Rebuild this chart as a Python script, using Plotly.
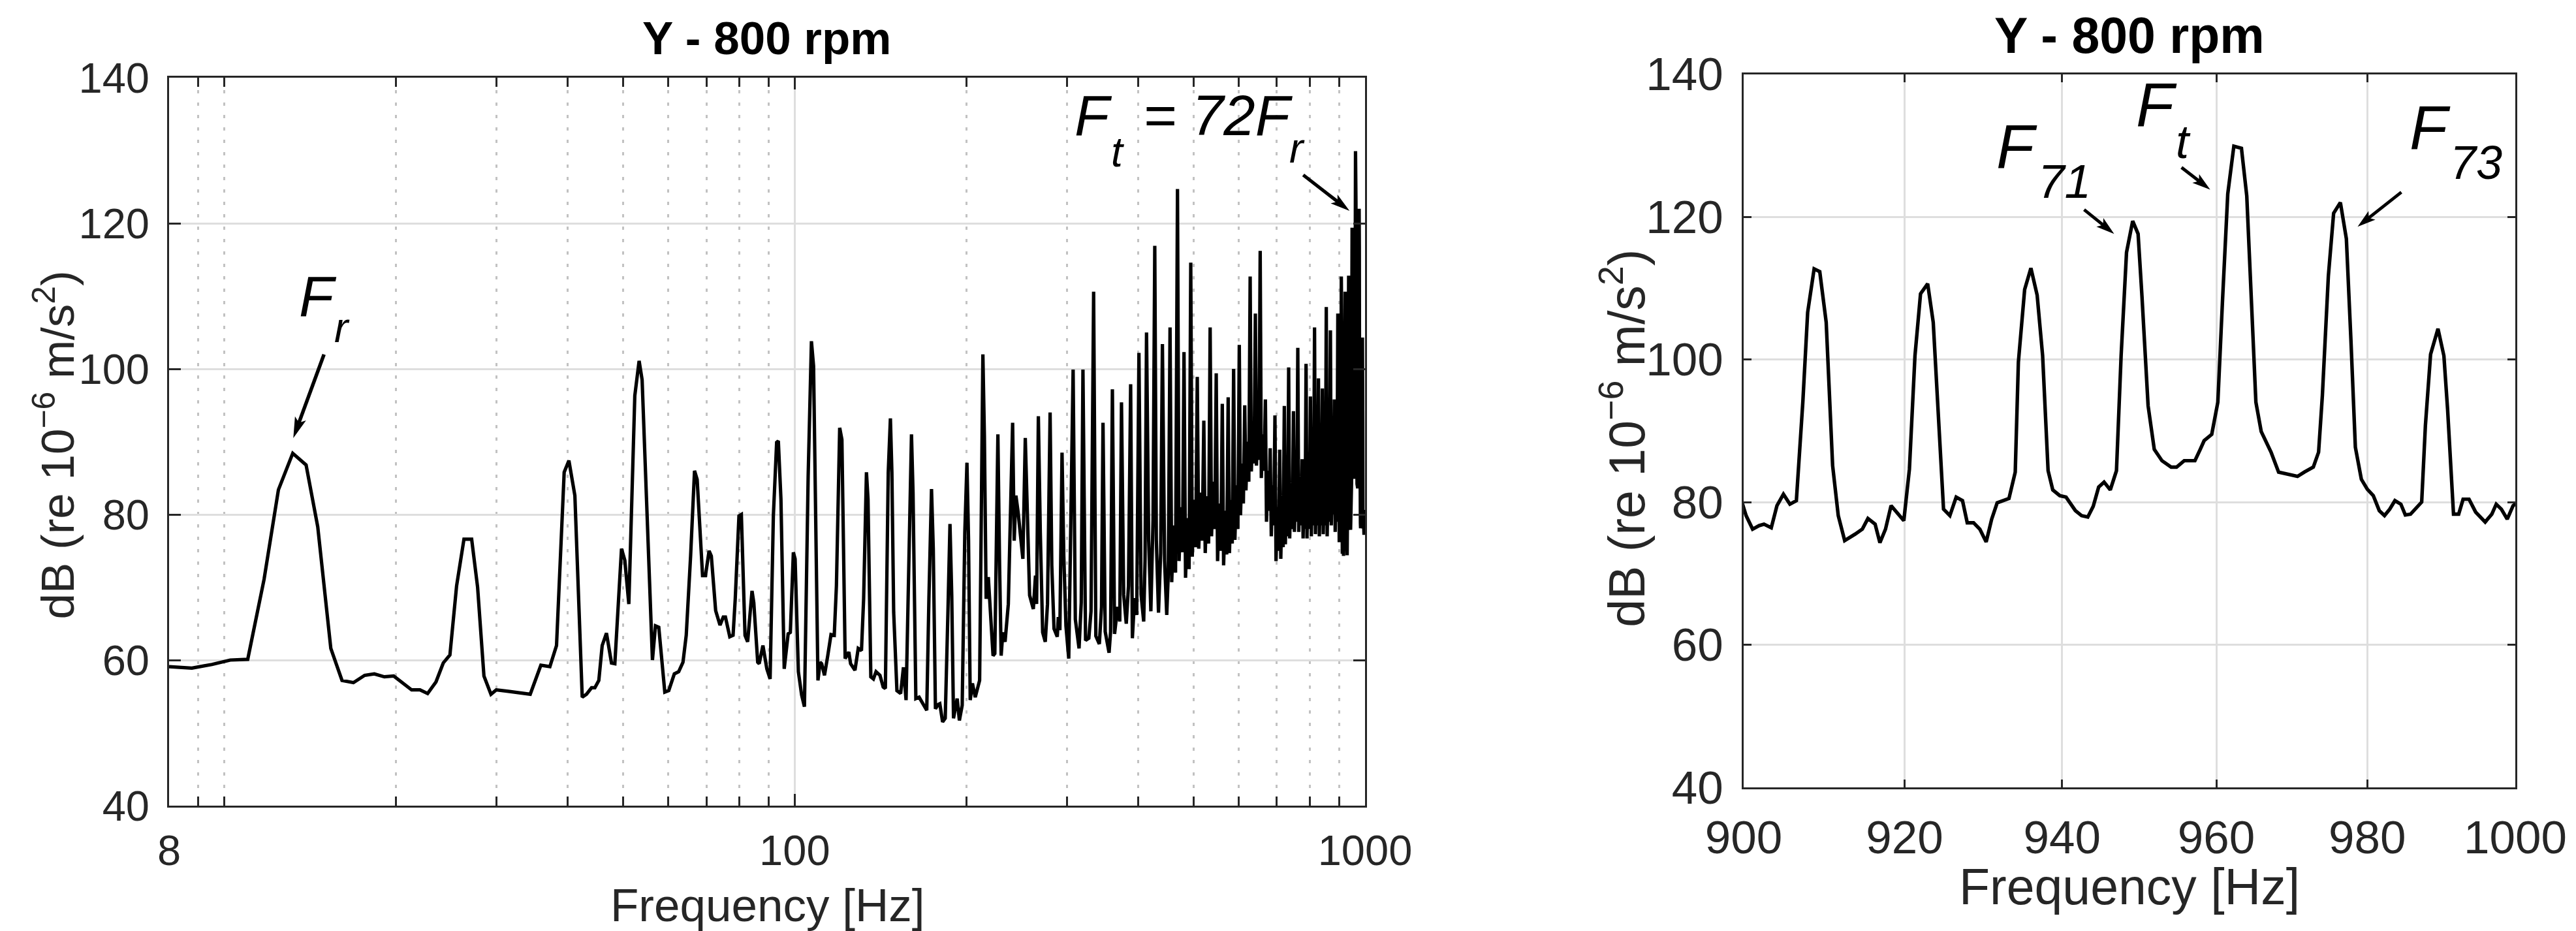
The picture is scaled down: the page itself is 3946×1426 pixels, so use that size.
import numpy as np
import plotly.graph_objects as go

# ---------------- data ----------------
# Left panel: Y direction spectrum, 8 Hz - 900 Hz (continues with zoom data below)
sweep_freq = [
    8.00, 8.77, 9.51, 10.24, 10.99, 11.74, 12.44, 13.18, 13.91, 14.58, 15.37, 16.08, 16.84, 17.62,
    18.32, 19.08, 19.81, 20.46, 21.30, 22.03, 22.72, 23.50, 24.20, 24.86, 25.54, 26.31, 27.14, 27.80,
    28.52, 29.34, 29.97, 31.46, 32.98, 34.38, 35.89, 37.22, 38.23, 39.43, 40.19, 41.17, 42.41, 43.15,
    44.04, 44.63, 45.35, 45.97, 46.77, 47.73, 48.38, 49.70, 50.37, 51.19, 52.44, 53.36, 54.01, 56.31,
    57.00, 57.77, 59.19, 60.14,
    61.51, 62.60, 63.70, 64.54, 65.69, 66.74, 67.45, 68.94, 69.75, 70.78, 71.42, 72.68, 73.97, 74.95,
    75.61, 76.95, 77.98, 78.66, 79.85, 80.63, 81.83, 82.70, 84.18, 84.78, 86.13, 86.65, 87.96, 89.36,
    90.55, 91.75, 92.97, 93.61, 94.60, 95.86, 97.39, 98.26, 99.46, 100.17, 101.50, 102.84, 104.01,
    105.59, 106.99, 107.92, 109.85, 110.81, 111.51, 112.78, 114.28, 115.79, 117.32, 118.35, 119.92,
    121.0, 122.6, 124.43, 125.32, 127.55, 129.24, 130.95, 132.09, 133.6, 134.45, 135.98, 137.42,
    138.88, 141.09, 142.96, 144.21, 145.89, 147.17, 148.06, 149.12, 151.09, 153.38, 155.13, 156.77,
    158.85, 160.24, 161.25, 163.09,
    165.26, 167.45, 170.43, 171.92, 173.74, 174.98, 176.51, 178.52, 179.65, 181.70, 183.63, 185.57,
    187.19, 188.53, 189.87, 192.70, 194.43, 196.65, 198.73, 200.46, 201.74, 203.12, 204.95, 207.29,
    210.98, 212.27, 213.78, 215.08, 216.62, 218.51, 220.82, 222.75, 224.34, 225.70, 227.13, 228.69,
    230.14, 231.72, 233.81, 236.90, 238.98, 241.06, 242.59, 244.26, 246.46, 248.61, 251.24, 253.70,
    255.25, 258.16, 262.06, 264.36, 265.55, 267.44, 269.56, 272.13, 275.01, 277.49, 280.43, 282.35,
    284.89, 288.66, 289.88, 291.71, 294.26, 296.36, 298.95, 302.35, 307.74,
    310.5, 315.2, 318.0, 320.2, 323.6, 327.9, 330.8, 334.3, 337.3, 342.1, 345.1, 347.2, 350.3, 355.8,
    358.0, 360.6, 363.8, 368.2, 371.5, 374.1, 377.4, 381.4, 384.8, 388.2, 390.9, 394.4, 397.8, 401.4,
    404.9, 409.2, 411.4, 413.9, 417.5, 421.2, 424.9, 427.9, 430.6, 434.4, 438.2, 441.3, 445.2, 449.1,
    451.9, 455.1,
    458.2, 461.8, 465.3, 469.0, 472.0, 475.5, 478.6, 481.5, 484.5, 488.0, 491.5, 494.8, 497.8, 501.3,
    504.8, 508.0, 511.0, 514.6, 518.2, 521.6, 524.6, 528.2, 531.8, 535.1, 538.1, 541.6, 545.1, 548.4,
    551.4, 555.0, 558.6, 562.0, 565.0, 568.5, 572.1, 575.5, 578.5, 581.8, 585.0, 588.3, 591.3, 594.9,
    598.5, 601.9, 604.9, 608.4, 611.9, 615.3, 618.3, 621.9, 625.5, 628.9, 631.9, 635.4, 638.9, 642.3,
    645.1, 648.4, 651.5, 654.9, 657.9, 661.6, 665.3, 668.8, 671.8, 675.2, 678.5, 681.9, 684.9, 688.3,
    691.7, 695.1, 698.1, 701.7, 705.3, 708.7, 711.7, 715.0, 718.5, 721.9, 724.9, 728.1, 731.4, 734.7,
    737.7, 741.6, 745.5, 749.0, 752.0, 755.5, 759.0, 762.3, 765.3, 768.9, 772.5, 775.8, 778.8, 782.0,
    785.0, 788.1, 791.1, 794.8, 798.6, 802.1, 805.1, 808.6, 812.2, 815.6, 818.6, 822.0, 825.4, 828.6,
    831.6, 835.0, 838.4, 841.8, 844.8, 848.3, 851.8, 855.2, 858.2, 862.0, 865.8, 869.6, 872.6, 876.3,
    880.0, 883.5, 886.5, 889.6, 892.6, 896.0, 899.0,
]
sweep_db = [
    59.1, 58.9, 59.4, 60.0, 60.1, 71.1, 83.4, 88.4, 86.8, 78.3, 61.6, 57.2, 56.9, 57.9,
    58.1, 57.7, 57.8, 57.0, 55.9, 55.9, 55.4, 57.0, 59.6, 60.7, 70.2, 76.6, 76.6, 70.0,
    57.8, 55.3, 55.9, 55.7, 55.5, 55.3, 59.3, 59.1, 62.0, 85.8, 87.4, 82.6, 54.9, 55.3,
    56.2, 56.2, 57.2, 62.0, 63.7, 59.6, 59.5, 75.3, 73.7, 67.7, 96.3, 101.1, 98.5, 60.0,
    64.7, 64.5, 55.6, 55.8,
    58.1, 58.4, 59.7, 63.4, 74.3, 86.0, 84.8, 71.6, 71.6, 75.0, 74.3, 66.8, 64.8, 65.9,
    65.9, 63.2, 63.4, 68.4, 79.8, 80.0, 63.4, 62.5, 69.5, 67.9, 59.7, 59.5, 62.0, 58.8,
    57.4, 79.8, 89.9, 90.1, 82.1, 58.8, 63.6, 63.8, 74.8, 73.9, 58.4, 55.2, 53.6,
    85.3, 103.8, 100.4, 57.2, 59.7, 59.5, 57.9, 60.6, 63.5, 63.4, 70.2, 91.9,
    90.3, 60.2, 61.1, 59.5, 58.6, 61.6, 61.3, 68.4, 85.8, 82.1, 57.7, 57.4,
    58.4, 57.9, 56.3, 56.1, 85.8, 93.2, 85.8, 66.6, 55.8, 55.4, 59.0, 54.5,
    77.5, 91.0, 83.0, 54.7,
    54.9, 54.2, 53.1, 68.4, 83.5, 75.3, 53.3, 53.9, 54.0, 51.5, 52.0, 66.1,
    78.7, 68.9, 52.0, 54.7, 51.7, 53.8, 77.5, 87.1, 76.6, 54.5, 56.8, 54.9,
    57.2, 77.5, 102.0, 90.8, 68.4, 71.4, 65.0, 60.6, 60.9, 73.9, 91.0, 73.0,
    60.6, 63.8, 62.5, 67.7, 82.1, 92.6, 76.4, 82.6, 80.3, 77.1, 73.9, 90.5,
    82.1, 68.9, 67.0, 71.6, 67.7, 93.5, 77.5, 63.8, 62.5, 67.7, 94.0, 73.0,
    64.3, 63.2, 65.9, 64.1, 88.5, 74.3, 64.7, 60.2, 99.9,
    65.6, 61.6, 67.9, 99.9, 62.7, 63.0, 66.7, 110.6, 63.3, 62.2, 67.3, 92.6, 63.9, 61.0,
    63.9, 97.2, 63.6, 67.3, 65.3, 95.4, 69.0, 65.0, 70.2, 97.9, 63.0, 68.5, 66.2, 102.2,
    69.0, 65.3, 73.6, 105.0, 76.5, 66.7, 79.3, 116.9, 76.5, 66.5, 74.7, 103.4, 73.6, 66.2,
    71.9, 105.7,
    70.7, 78.5, 72.0, 124.7, 73.6, 81.0, 74.8, 102.3, 71.3, 79.5, 72.5, 114.6, 74.2, 82.0,
    75.5, 98.9, 75.3, 83.0, 76.4, 92.9, 74.7, 82.5, 76.0, 105.7, 77.0, 84.5, 78.0, 99.4,
    73.6, 81.5, 75.0, 95.2, 73.0, 80.5, 74.5, 96.1, 74.7, 82.0, 76.0, 100.0, 76.5, 84.0,
    78.0, 103.3, 79.9, 87.0, 81.5, 95.0, 83.3, 90.0, 84.5, 112.7, 85.9, 92.0, 87.0, 107.6,
    86.7, 92.5, 87.5, 116.2, 85.0, 91.0, 86.0, 95.8, 79.0, 86.0, 80.5, 89.1, 77.0, 84.0,
    78.5, 93.6, 73.6, 81.0, 75.0, 88.9, 73.9, 81.5, 75.5, 94.9, 75.9, 83.0, 77.0, 100.2,
    76.7, 84.0, 78.0, 94.2, 77.6, 84.5, 79.0, 102.9, 77.6, 84.5, 78.5, 87.6, 76.7, 83.5,
    78.0, 100.7, 76.7, 84.0, 78.0, 96.2, 77.0, 84.5, 78.5, 105.7, 77.3, 84.5, 78.5, 98.7,
    77.0, 84.0, 78.5, 97.3, 77.3, 84.5, 78.5, 108.5, 77.0, 85.0, 79.0, 105.3, 78.5, 85.5,
    80.0, 95.8, 77.6, 84.5, 79.0, 107.6, 78.0,
]

# Right panel: zoom 900 - 1000 Hz (same spectrum)
zoom_freq = [
    899.6, 900.3, 901.1, 901.9, 902.5, 903.4, 904.1, 904.9, 905.7, 906.5, 907.3, 907.9, 908.7, 909.4,
    910.2, 911.0, 911.7, 912.5, 913.8, 914.7, 915.4, 916.3, 916.9, 917.6, 918.3, 919.0, 919.9, 920.6,
    921.3, 922.0, 922.9, 923.6, 924.3, 924.9, 925.7, 926.5, 927.3, 927.9, 928.7, 929.5, 930.3, 931.0,
    931.7, 933.2, 934.0, 934.4, 935.2, 936.0, 936.8, 937.5, 938.2, 938.8, 939.7, 940.5, 941.7, 942.5,
    943.3, 944.0, 944.7, 945.4, 946.2, 947.0, 947.6, 948.3, 949.1, 949.8, 950.3, 951.1, 951.9, 952.9,
    954.1, 954.8, 955.8, 957.2, 957.9, 958.4, 959.4, 960.2, 960.8, 961.5, 962.3, 963.3, 964.0, 964.6,
    965.2, 965.9, 967.2, 968.2, 969.6, 970.7, 971.6, 972.8, 973.5, 974.0, 974.8, 975.5, 976.4, 977.2,
    977.8, 978.4, 979.2, 980.0, 980.8, 981.6, 982.3, 983.0, 983.7, 984.5, 985.1, 985.8, 987.3, 987.8,
    988.5, 989.5, 990.3, 990.8, 991.6, 992.3, 992.9, 993.7, 994.6, 995.9, 996.8, 997.4, 998.1, 998.9,
    999.7, 1000.4,
]
zoom_db = [
    80.7, 78.1, 76.2, 76.7, 76.9, 76.4, 79.5, 81.1, 79.7, 80.2, 94.0, 106.6, 112.7, 112.3,
    105.2, 85.1, 78.1, 74.6, 75.5, 76.2, 77.7, 76.9, 74.3, 76.2, 79.5, 78.6, 77.4, 84.6,
    100.5, 109.2, 110.6, 105.2, 91.6, 79.0, 78.1, 80.7, 80.2, 77.1, 77.1, 76.2, 74.4, 77.6,
    79.9, 80.5, 84.2, 99.6, 109.8, 112.8, 109.0, 100.5, 84.4, 81.7, 80.9, 80.7, 78.8, 78.1,
    77.9, 79.4, 82.1, 82.8, 81.7, 84.4, 100.5, 115.0, 119.4, 117.6, 108.9, 93.5, 87.4, 85.8,
    84.9, 84.9, 85.8, 85.8, 87.4, 88.6, 89.5, 94.0, 108.0, 123.2, 129.9, 129.6, 122.9, 108.0,
    94.0, 89.9, 87.0, 84.2, 83.9, 83.6, 84.2, 84.9, 87.0, 94.9, 111.7, 120.5, 122.0, 116.9,
    102.9, 87.7, 83.2, 81.8, 80.9, 78.8, 78.1, 79.0, 80.2, 79.7, 78.2, 78.3, 80.0, 90.7,
    100.7, 104.3, 100.5, 93.0, 78.3, 78.3, 80.4, 80.4, 78.6, 77.2, 78.3, 79.7, 79.0, 77.6,
    79.5, 80.0,
]

left_ticks = [8, 100, 1000]
left_minor = [9, 10, 20, 30, 40, 50, 60, 70, 80, 90, 200, 300, 400, 500, 600, 700, 800, 900]
right_ticks = [900, 920, 940, 960, 980, 1000]
db_ticks = [40, 60, 80, 100, 120, 140]
title_text = "Y - 800 rpm"
xlabel_text = "Frequency [Hz]"
ylabel_text = "dB (re 10<sup>\u22126</sup> m/s<sup>2</sup>)"

# annotated peaks: (frequency, dB) of the arrow tips
fr_peak = (13.21, 90.5)
ft_peak_left = (939.5, 121.7)
f71_peak = (946.7, 117.6)
ft_peak_right = (959.2, 123.8)
f73_peak = (978.7, 118.6)

# ---------------- styling ----------------
W, H = 3946, 1426
FONT = "Liberation Sans"
AX = "#262626"
GRID = "#dedede"
MINOR = "#c2c2c2"

left_x = [251, 2083]
left_y = [111, 1226]
right_x = [2663, 3845]
right_y = [105.5, 1198]


def dom_x(p):
    return [p[0] / W, p[1] / W]


def dom_y(p):
    return [1 - p[1] / H, 1 - p[0] / H]


fig = go.Figure()
fig.add_trace(go.Scatter(x=sweep_freq + zoom_freq, y=sweep_db + zoom_db, mode="lines",
                         line=dict(color="black", width=5.2), xaxis="x", yaxis="y",
                         showlegend=False, cliponaxis=True))
fig.add_trace(go.Scatter(x=zoom_freq, y=zoom_db, mode="lines",
                         line=dict(color="black", width=5.4), xaxis="x2", yaxis="y2",
                         showlegend=False, cliponaxis=True))

common_axis = dict(showline=True, linewidth=3, linecolor=AX, mirror="ticks", ticks="inside",
                   tickwidth=3, tickcolor=AX, showgrid=True, gridcolor=GRID, gridwidth=3,
                   zeroline=False, tickmode="array", automargin=False)

fig.update_layout(
    width=W, height=H, margin=dict(l=0, r=0, t=0, b=0, pad=0, autoexpand=False),
    paper_bgcolor="white", plot_bgcolor="white",
    xaxis=dict(common_axis, domain=dom_x(left_x), type="log",
               range=[np.log10(8), np.log10(1000)], tickvals=left_ticks,
               ticktext=[str(v) for v in left_ticks], ticklen=18, anchor="y",
               tickfont=dict(family=FONT, size=65, color=AX), ticklabelstandoff=10,
               minor=dict(tickmode="array", tickvals=left_minor, ticks="inside", ticklen=14,
                          tickwidth=3, tickcolor=AX, showgrid=True, gridcolor=MINOR,
                          gridwidth=3, griddash="5px,14px")),
    yaxis=dict(common_axis, domain=dom_y(left_y), range=[40, 140], tickvals=db_ticks,
               ticklen=18, anchor="x", tickfont=dict(family=FONT, size=65, color=AX),
               ticklabelstandoff=14),
    xaxis2=dict(common_axis, domain=dom_x(right_x), type="log",
                range=[np.log10(900), np.log10(1000)], tickvals=right_ticks,
                ticktext=[str(v) for v in right_ticks], ticklen=12, anchor="y2",
                tickfont=dict(family=FONT, size=71, color=AX), ticklabelstandoff=13),
    yaxis2=dict(common_axis, domain=dom_y(right_y), range=[40, 140], tickvals=db_ticks,
                ticklen=12, anchor="x2", tickfont=dict(family=FONT, size=71, color=AX),
                ticklabelstandoff=14),
)


def txt(text, px, py, size, color="black", xanchor="left", angle=0):
    return dict(text=text, x=px / W, y=1 - py / H, xref="paper", yref="paper",
                xanchor=xanchor, yanchor="middle", showarrow=False, textangle=angle,
                font=dict(family=FONT, size=size, color=color))


ann = []
# titles
ann.append(txt("<b>" + title_text + "</b>", sum(left_x) / 2, 50, 71, xanchor="center"))
ann.append(txt("<b>" + title_text + "</b>", sum(right_x) / 2, 46, 77, xanchor="center"))
# x labels
ann.append(txt(xlabel_text, sum(left_x) / 2, 1378, 71, AX, xanchor="center"))
ann.append(txt(xlabel_text, sum(right_x) / 2, 1350, 77, AX, xanchor="center"))
# y labels
ann.append(txt(ylabel_text, 75, sum(left_y) / 2 + 5, 71, AX, xanchor="center", angle=-90))
ann.append(txt(ylabel_text, 2478, sum(right_y) / 2 + 12, 77, AX, xanchor="center", angle=-90))

# peak labels: main letters and (lowered) subscripts as separate pieces
ann.append(txt("<i>F</i>", 448, 446, 87))
ann.append(txt("<i>r</i>", 502, 494, 64))
ann.append(txt("<i>F</i>", 1636, 168, 87))
ann.append(txt("<i>t</i>", 1692, 225, 64))
ann.append(txt("<i>= 72F</i>", 1741, 168, 87))
ann.append(txt("<i>r</i>", 1965, 219, 64))

ann.append(txt("<i>F</i>", 3048, 216, 95))
ann.append(txt("<i>71</i>", 3112, 270, 73))
ann.append(txt("<i>F</i>", 3262, 152, 95))
ann.append(txt("<i>t</i>", 3323, 209, 72))
ann.append(txt("<i>F</i>", 3681, 187, 95))
ann.append(txt("<i>73</i>", 3743, 241, 72))
fig.update_layout(annotations=ann)


# arrows: a filled notched head at the tip plus a shaft, sized in pixels
def arrow_shapes(tip, off, xr, yr, width, head_len=28.0, head_half=8.5):
    ax, ay = off
    L = float(np.hypot(ax, ay))
    ux, uy = ax / L, ay / L
    nx, ny = -uy, ux

    def p(x, y):  # screen offsets (y down) -> shape pixel coordinates (y up)
        return f"{x:.2f},{-y:.2f}"

    head = ("M " + p(0, 0) + " L " + p(head_len * ux + head_half * nx, head_len * uy + head_half * ny)
            + " L " + p(0.78 * head_len * ux, 0.78 * head_len * uy)
            + " L " + p(head_len * ux - head_half * nx, head_len * uy - head_half * ny) + " Z")
    shaft = "M " + p(0.7 * head_len * ux, 0.7 * head_len * uy) + " L " + p(ax, ay)
    base = dict(type="path", xref=xr, yref=yr, xsizemode="pixel", ysizemode="pixel",
                xanchor=tip[0], yanchor=tip[1], layer="above")
    return [dict(base, path=head, fillcolor="black", line=dict(width=0)),
            dict(base, path=shaft, line=dict(color="black", width=width))]


shapes = []
shapes += arrow_shapes(fr_peak, (47, -128), "x", "y", 5.5, 32, 9)
shapes += arrow_shapes(ft_peak_left, (-71, -55), "x", "y", 5.2, 30, 8.5)
shapes += arrow_shapes(f71_peak, (-46, -37), "x2", "y2", 4.8)
shapes += arrow_shapes(ft_peak_right, (-44, -34), "x2", "y2", 4.8)
shapes += arrow_shapes(f73_peak, (67, -53), "x2", "y2", 4.8)
fig.update_layout(shapes=shapes)

fig.write_html("out.html")
